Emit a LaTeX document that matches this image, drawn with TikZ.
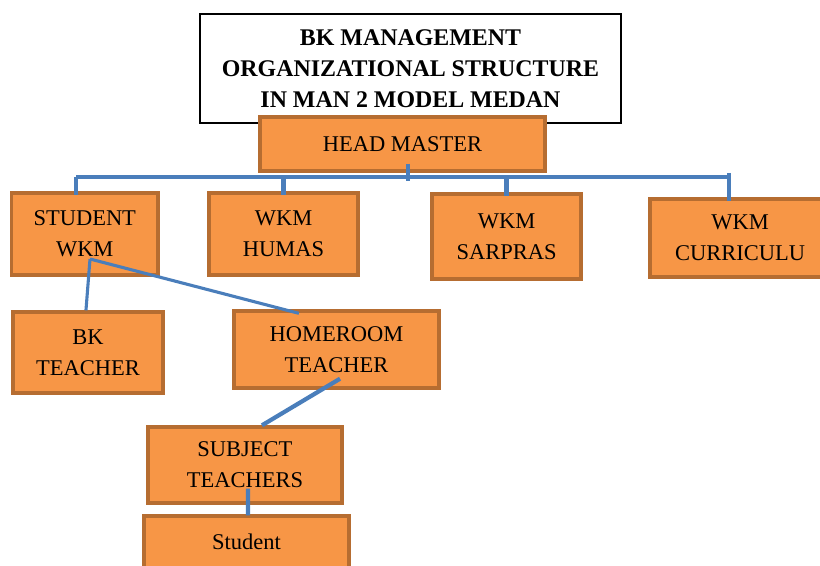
\documentclass[tikz,border=0pt]{standalone}
\usepackage{fontspec}
\setmainfont{Liberation Serif}
\definecolor{boxfill}{HTML}{F79646}
\definecolor{boxedge}{HTML}{B66D31}
\definecolor{linkblue}{HTML}{4A7EBB}
\begin{document}
\begin{tikzpicture}[
  unit/.style={rectangle, draw=boxedge, fill=boxfill, line width=2.4pt, align=center, inner sep=0pt, font=\fontsize{16}{22}\selectfont},
  titlebox/.style={rectangle, draw=black, fill=white, line width=0.8pt, align=center, inner sep=0pt, font=\fontsize{17}{22}\selectfont\bfseries},
  trunk/.style={draw=linkblue, line width=3pt},
  link/.style={draw=linkblue, line width=2.2pt},
  node distance=2cm
]
\clip (0,0) rectangle (20.5,-14.15);
\node[titlebox, minimum width=10.525cm, minimum height=2.725cm] (title) at (10.2625,-1.7125) {BK MANAGEMENT\\ORGANIZATIONAL STRUCTURE\\IN MAN 2 MODEL MEDAN};
\node[unit, below of=title, node distance=1.8875cm, xshift=-0.2cm, minimum width=7.125cm, minimum height=1.35cm] (head) {HEAD MASTER};

\node[unit, minimum width=3.6625cm, minimum height=2.05cm] (wkmstudent) at (2.119,-5.85) {STUDENT\\WKM};
\node[unit, right of=wkmstudent, node distance=4.97cm, minimum width=3.725cm, minimum height=2.05cm] (wkmhumas) {WKM\\HUMAS};
\node[unit, right of=wkmhumas, node distance=5.575cm, yshift=-0.0625cm, minimum width=3.725cm, minimum height=2.125cm] (wkmsarpras) {WKM\\SARPRAS};
\node[unit, right of=wkmsarpras, node distance=5.8375cm, yshift=-0.0375cm, minimum width=4.5cm, minimum height=1.95cm] (wkmcurr) {WKM\\CURRICULU};

\node[unit, below of=wkmstudent, node distance=2.9625cm, xshift=0.08cm, minimum width=3.75cm, minimum height=2.025cm] (bkteacher) {BK\\TEACHER};
\node[unit, right of=bkteacher, node distance=6.2125cm, yshift=0.075cm, minimum width=5.125cm, minimum height=1.925cm] (homeroom) {HOMEROOM\\TEACHER};
\node[unit, below of=homeroom, node distance=2.8875cm, xshift=-2.2875cm, minimum width=4.85cm, minimum height=1.9cm] (subject) {SUBJECT\\TEACHERS};
\node[unit, below of=subject, node distance=1.925cm, xshift=0.0375cm, minimum width=5.125cm, minimum height=1.3cm] (student) {Student};

\coordinate (barleft) at (1.9,-4.425);
\coordinate (barright) at (18.225,-4.425);
\coordinate (hub) at (10.2,-4.425);
\coordinate (split) at (2.25,-6.475);

\draw[trunk] (barleft) -- (barright);
\draw[trunk] ([yshift=0.225cm]head.south -| hub) -- ([yshift=-0.1cm]hub);
\draw[trunk] (barleft) -- ([yshift=-0.1cm]barleft |- wkmstudent.north);
\draw[trunk] (barleft -| wkmhumas) -- ([yshift=-0.1cm]wkmhumas.north);
\draw[trunk] (barleft -| wkmsarpras) -- ([yshift=-0.1cm]wkmsarpras.north);
\draw[trunk] ([yshift=0.1cm]barright) -- ([yshift=-0.1cm]barright |- wkmcurr.north);

\draw[link] (split) -- ([xshift=-0.05cm]bkteacher.north);
\draw[link] (split) -- ([xshift=-0.94cm,yshift=-0.1cm]homeroom.north);
\draw[trunk] ([xshift=0.09cm,yshift=0.275cm]homeroom.south) -- ([xshift=0.425cm]subject.north);
\draw[trunk] ([xshift=0.075cm,yshift=0.4cm]subject.south) -- ([xshift=0.04cm,yshift=-0.025cm]student.north);
\end{tikzpicture}
\end{document}
